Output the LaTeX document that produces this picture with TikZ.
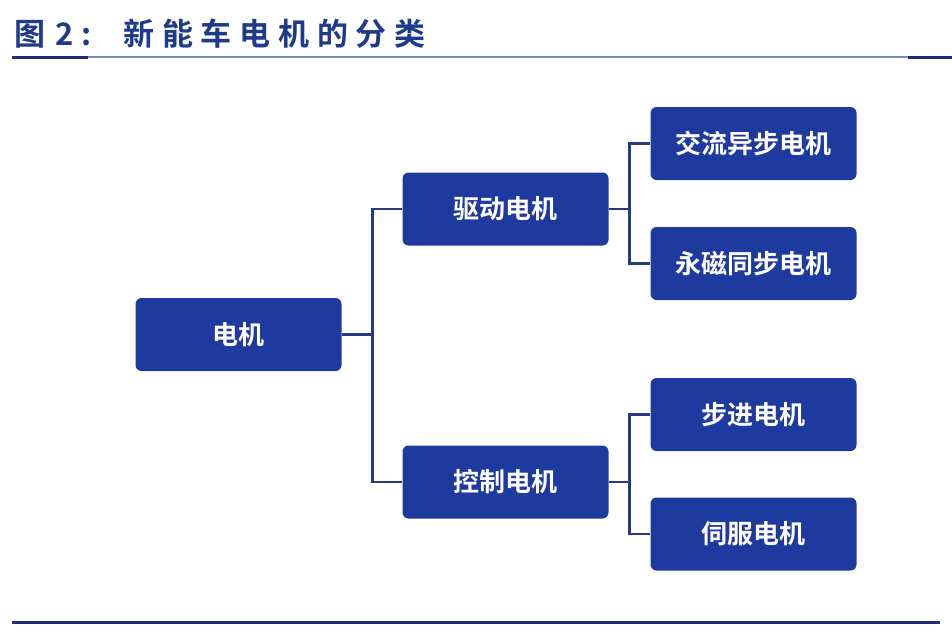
\documentclass[tikz,border=0pt]{standalone}
\usepackage{fontspec}
\newfontfamily\cjkb{Noto Sans CJK SC}[BoldFont=* Bold]
\newfontfamily\titlefont{Noto Sans CJK SC}[BoldFont=* Bold,LetterSpace=25]
\definecolor{boxblue}{RGB}{30,58,158}
\definecolor{lineblue}{RGB}{40,58,130}
\definecolor{titleblue}{RGB}{30,58,140}
\definecolor{ruleblue}{RGB}{120,135,180}
\definecolor{ruledark}{RGB}{30,45,120}
\tikzset{
  motorbox/.style={rectangle, rounded corners=6pt, fill=boxblue, text=white,
    font=\cjkb\bfseries\fontsize{26}{26}\selectfont, minimum width=206pt,
    minimum height=73pt, inner sep=0pt},
  conn/.style={draw=lineblue, line width=2.6pt},
}
\begin{document}
\begin{tikzpicture}[x=1pt,y=-1pt]
\useasboundingbox[fill=white] (0,0) rectangle (952,635);
% title
\node[anchor=west, text=titleblue, font=\titlefont\bfseries\fontsize{31}{31}\selectfont, inner sep=0pt] (title) at (14,34) {图\kern10pt 2:\hspace{32pt}新能车电机的分类};
% rules
\draw[ruleblue, line width=1.4pt] (12,57) -- (940,57);
\draw[ruledark, line width=3pt] (12,57) -- (88,57);
\draw[ruledark, line width=3pt] (908,57) -- (952,57);
\draw[ruledark, line width=3pt] (12,622) -- (940,622);
% boxes
\node[motorbox] (m) at (238.5,334.5) {电机};
\node[motorbox] (d) at (505.5,209) {驱动电机};
\node[motorbox] (k) at (505.5,482) {控制电机};
\node[motorbox] (a1) at (753.5,143.5) {交流异步电机};
\node[motorbox] (a2) at (753.5,263.5) {永磁同步电机};
\node[motorbox] (b1) at (753.5,414.5) {步进电机};
\node[motorbox] (b2) at (753.5,534) {伺服电机};
% junctions
\path (m.east) ++(31,0) coordinate (j1);
\path (d.east) ++(21,0) coordinate (j2);
\path (k.east) ++(21,0) coordinate (j3);
% connectors
\draw[conn] (m.east) -- (j1);
\draw[conn] (d.west) -| (j1) |- (k.west);
\draw[conn] (d.east) -- (j2);
\draw[conn] (a1.west) -| (j2) |- (a2.west);
\draw[conn] (k.east) -- (j3);
\draw[conn] (b1.west) -| (j3) |- (b2.west);
\end{tikzpicture}
\end{document}
